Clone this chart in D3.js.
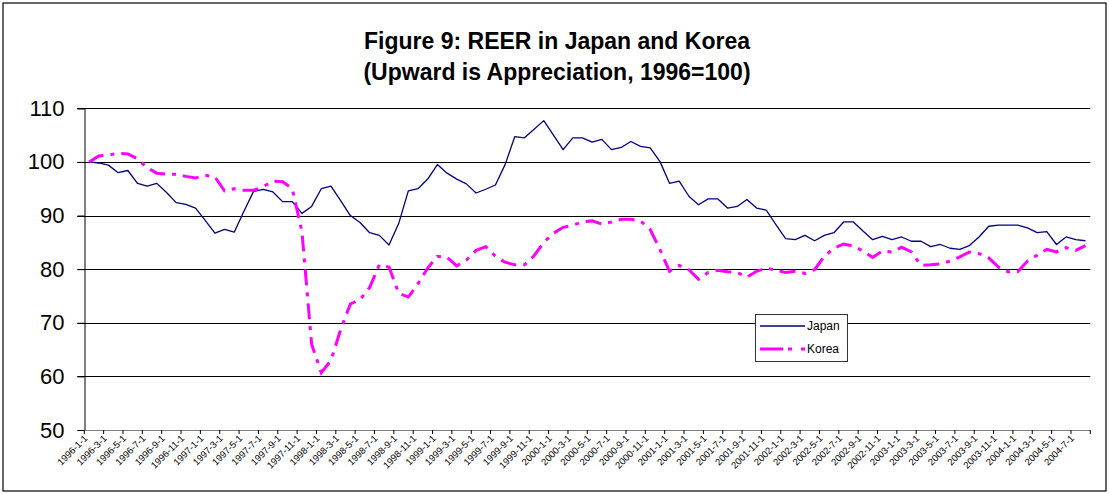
<!DOCTYPE html>
<html>
<head>
<meta charset="utf-8">
<script src="https://cdn.jsdelivr.net/npm/d3@7/dist/d3.min.js"></script>
<style>
  body { margin: 0; background: #fff; }
  svg { display: block; font-family: "Liberation Sans", Arial, sans-serif; }
</style>
</head>
<body>
<div id="chart"></div>
<script>
// monthly categories 1996-1 .. 2004-8
const months = [];
for (let y = 1996; y <= 2004; y++) {
    for (let m = 1; m <= 12; m++) {
        if (y === 2004 && m > 8) break;
        months.push(`${y}-${m}-1`);
    }
}

const japan = [
    100.0, 99.8, 99.4, 98.0, 98.4, 96.0, 95.5, 96.0, 94.3, 92.4, 92.1, 91.4,
    89.1, 86.7, 87.4, 86.9, 90.8, 94.5, 94.9, 94.4, 92.6, 92.6, 90.4, 91.7,
    95.0, 95.5, 92.8, 90.0, 88.7, 86.8, 86.3, 84.5, 88.5, 94.6, 95.0, 96.8,
    99.5, 97.9, 96.8, 95.9, 94.2, 94.9, 95.7, 99.5, 104.7, 104.5, 106.1, 107.7,
    105.0, 102.3, 104.5, 104.5, 103.7, 104.2, 102.3, 102.7, 103.8, 102.9, 102.6, 100.1,
    96.0, 96.4, 93.6, 92.0, 93.1, 93.1, 91.4, 91.7, 93.0, 91.4, 91.0, 88.3,
    85.7, 85.5, 86.3, 85.3, 86.3, 86.8, 88.8, 88.8, 87.1, 85.5, 86.1, 85.5,
    86.0, 85.2, 85.2, 84.2, 84.6, 83.9, 83.7, 84.4, 86.0, 88.0, 88.2, 88.2,
    88.2, 87.7, 86.8, 87.0, 84.6, 86.0, 85.5, 85.3
];

const korea = [
    100.0, 101.1, 101.3, 101.6, 101.5, 100.6, 98.9, 97.9, 97.7, 97.7, 97.3, 97.0,
    97.5, 97.2, 94.6, 95.0, 94.7, 94.7, 95.4, 96.4, 96.3, 95.0, 87.0, 66.0,
    60.7, 63.0, 68.7, 73.5, 74.3, 76.6, 80.8, 80.4, 75.5, 74.8, 77.3, 80.2,
    82.4, 82.2, 80.6, 81.7, 83.5, 84.2, 82.4, 81.3, 80.8, 80.8, 82.5, 85.0,
    86.7, 87.8, 88.2, 88.8, 89.0, 88.4, 88.8, 89.3, 89.3, 89.0, 87.4, 83.7,
    79.6, 80.7, 79.9, 78.1, 79.4, 79.8, 79.5, 79.4, 78.5, 79.6, 80.2, 79.8,
    79.4, 79.6, 79.2, 79.9, 82.4, 83.9, 84.7, 84.3, 83.4, 82.2, 83.4, 83.2,
    84.1, 83.2, 80.7, 80.8, 81.0, 81.5, 82.3, 83.2, 82.9, 82.1, 80.4, 79.5,
    79.5, 81.5, 82.6, 83.7, 83.2, 84.0, 83.5, 84.4
];

const yTicks = [50, 60, 70, 80, 90, 100, 110];
const seriesNames = ["Japan", "Korea"];
const titleLines = ["Figure 9: REER in Japan and Korea", "(Upward is Appreciation, 1996=100)"];

const W = 1109, H = 494;
const plot = { left: 84.3, right: 1090.3, top: 108.3, bottom: 430 };

const svg = d3.select("#chart").append("svg")
    .attr("width", W)
    .attr("height", H);

// outer frame
svg.append("rect")
    .attr("x", 3).attr("y", 3)
    .attr("width", W - 6).attr("height", H - 6)
    .attr("fill", "#fff")
    .attr("stroke", "#000")
    .attr("stroke-width", 1.2);

// title
svg.selectAll(".title")
    .data(titleLines)
    .enter()
    .append("text")
    .attr("x", 557)
    .attr("y", (d, i) => 49 + i * 31)
    .attr("text-anchor", "middle")
    .style("font-size", "23px")
    .style("font-weight", "bold")
    .text(d => d);

const x = d3.scaleBand()
    .domain(months)
    .range([plot.left, plot.right])
    .padding(0);
const xc = d => x(d) + x.bandwidth() / 2;

const y = d3.scaleLinear()
    .domain([50, 110])
    .range([plot.bottom, plot.top]);

// gridlines
svg.append("g")
    .selectAll("line")
    .data(yTicks.filter(v => v > 50))
    .enter()
    .append("line")
    .attr("x1", plot.left - 7)
    .attr("x2", plot.right)
    .attr("y1", d => Math.round(y(d)) + 0.5)
    .attr("y2", d => Math.round(y(d)) + 0.5)
    .attr("stroke", "#000")
    .attr("stroke-width", 1);

// y axis
const yAxis = svg.append("g")
    .attr("transform", `translate(${Math.round(plot.left) + 0.5},0)`)
    .call(d3.axisLeft(y).tickValues(yTicks).tickSize(7).tickPadding(13));
yAxis.select(".domain").attr("stroke", "#000");
yAxis.selectAll("text")
    .style("font-size", "22px")
    .style("font-family", "'Liberation Sans', Arial, sans-serif")
    .attr("fill", "#000");

// x axis
const xTickCats = months.filter((d, i) => i % 2 === 0);
const xAxisG = svg.append("g").attr("class", "xaxis");
xAxisG.append("line")
    .attr("x1", plot.left).attr("x2", plot.right)
    .attr("y1", Math.round(plot.bottom) + 0.5).attr("y2", Math.round(plot.bottom) + 0.5)
    .attr("stroke", "#808080");
xAxisG.selectAll(".tick")
    .data(xTickCats.map(d => x(d)).concat([plot.right]))
    .enter()
    .append("line")
    .attr("x1", d => d).attr("x2", d => d)
    .attr("y1", plot.bottom).attr("y2", plot.bottom + 4)
    .attr("stroke", "#000");
xAxisG.selectAll(".lbl")
    .data(xTickCats)
    .enter()
    .append("text")
    .attr("text-anchor", "end")
    .attr("transform", d => `translate(${xc(d) - 1},${plot.bottom + 9}) rotate(-45)`)
    .style("font-size", "9.5px")
    .attr("fill", "#000")
    .text(d => d);

// lines
const line = d3.line()
    .x((d, i) => xc(months[i]))
    .y(d => y(d));

svg.append("path")
    .datum(japan)
    .attr("fill", "none")
    .attr("stroke", "#000080")
    .attr("stroke-width", 1.3)
    .attr("stroke-linejoin", "round")
    .attr("d", line);

svg.append("path")
    .datum(korea)
    .attr("fill", "none")
    .attr("stroke", "#ff00ff")
    .attr("stroke-width", 3)
    .attr("stroke-dasharray", "16,7,4,7")
    .attr("d", line);

// legend
const legend = svg.append("g").attr("transform", "translate(755,314)");
legend.append("rect")
    .attr("x", 0.5).attr("y", 0.5)
    .attr("width", 92).attr("height", 47)
    .attr("fill", "#fff")
    .attr("stroke", "#333");
const legendStyles = [
    { color: "#000080", width: 1.3, dash: null },
    { color: "#ff00ff", width: 3, dash: "23,5,4,9,4,3" }
];
seriesNames.forEach((name, i) => {
    const ly = 12 + i * 23;
    legend.append("line")
        .attr("x1", 5).attr("x2", 50)
        .attr("y1", ly).attr("y2", ly)
        .attr("stroke", legendStyles[i].color)
        .attr("stroke-width", legendStyles[i].width)
        .attr("stroke-dasharray", legendStyles[i].dash);
    legend.append("text")
        .attr("x", 52)
        .attr("y", ly + 4)
        .style("font-size", "12px")
        .text(name);
});
</script>
</body>
</html>
